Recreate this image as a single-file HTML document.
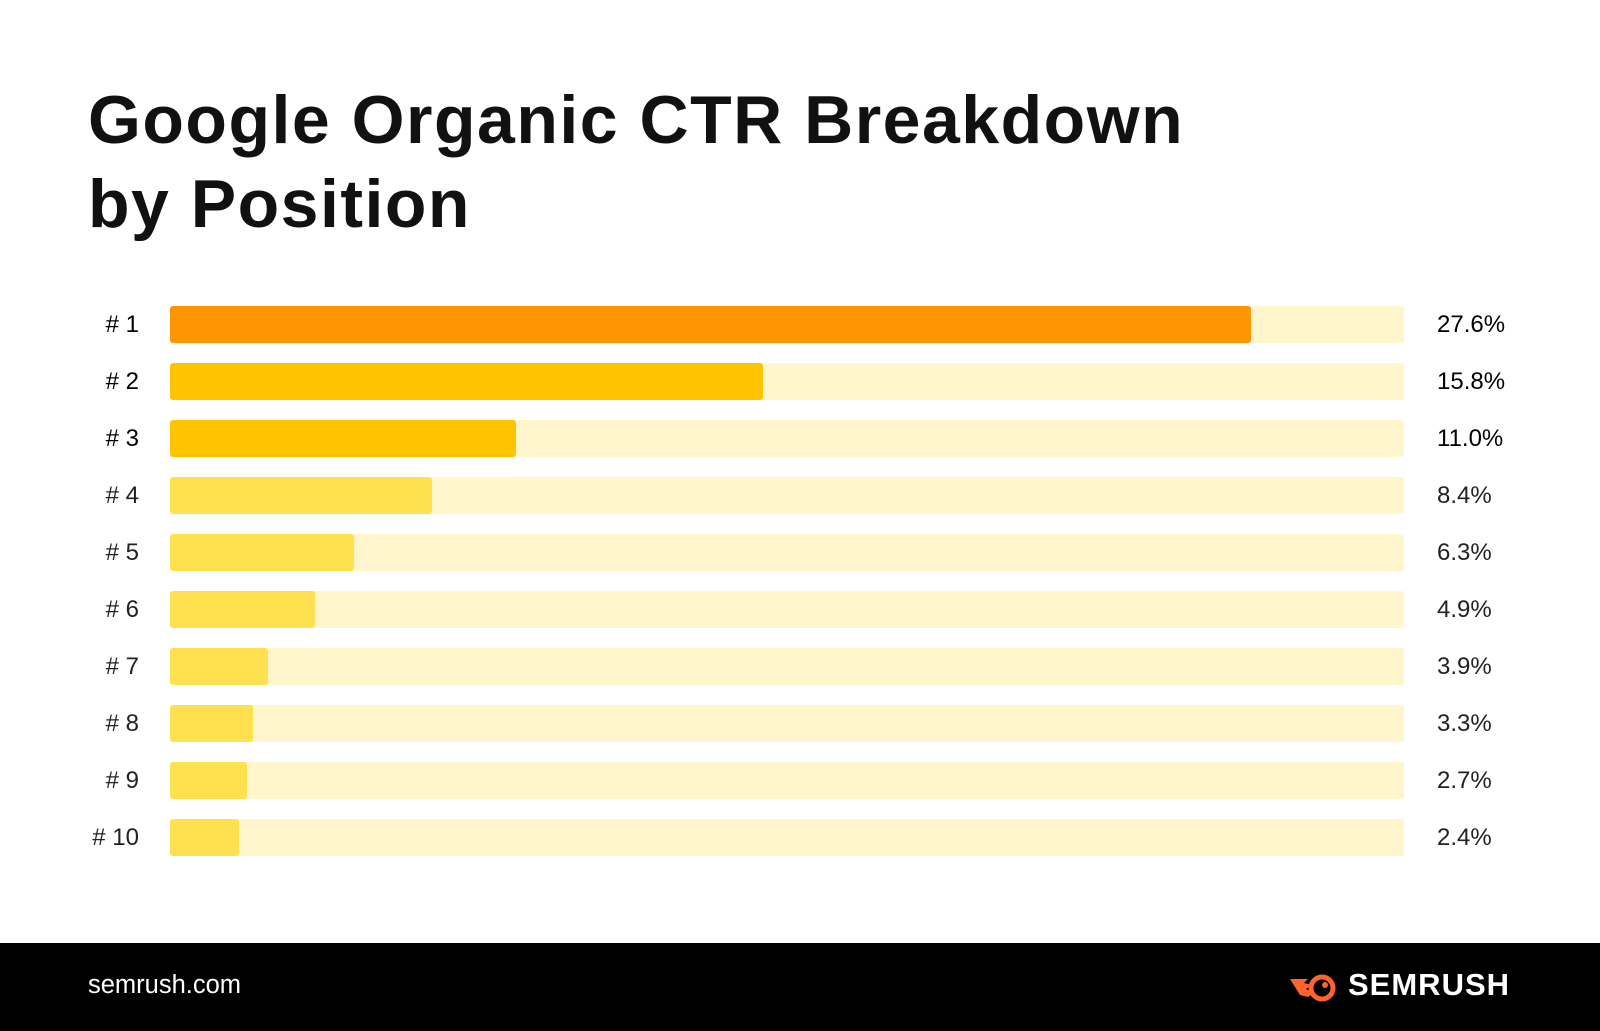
<!DOCTYPE html>
<html><head><style>
body{margin:0;width:1600px;height:1031px;background:#fff;position:relative;overflow:hidden;font-family:"Liberation Sans",sans-serif;color:#111}
.t{position:absolute;left:88px;font-weight:bold;font-size:68px;letter-spacing:1.5px;line-height:84px;top:78px}
.lab{position:absolute;width:139px;left:0;text-align:right;font-size:24px;line-height:37px}
.trk{position:absolute;left:170px;width:1234px;height:37px;background:#FFF5CC;border-radius:3px}
.fill{position:absolute;left:0;top:0;height:37px;border-radius:3px}
.val{position:absolute;left:1437px;font-size:24px;line-height:37px}
.foot{position:absolute;left:0;top:943px;width:1600px;height:88px;background:#000}
</style></head><body>
<div class="t">Google Organic CTR Breakdown<br>by Position</div>
<div id="c"></div>
<div class="foot">
<div style="position:absolute;left:88px;top:28px;color:#fff;font-size:25.5px">semrush.com</div>
<svg style="position:absolute;left:1290px;top:30px" width="50" height="30" viewBox="0 0 50 30"><path d="M0 6 L18 6 L14 10 L22 12 L16 16 L24 20 L18 24 L10 22 Z" fill="#FF642D"/><circle cx="32" cy="15" r="11" fill="none" stroke="#FF642D" stroke-width="5"/><circle cx="35" cy="12" r="3" fill="#FF642D"/></svg>
<div style="position:absolute;left:1348px;top:24px;color:#fff;font-size:31px;font-weight:bold;letter-spacing:1px">SEMRUSH</div>
</div>
<script>
var d=[["# 1",1251,"#FF9502","27.6%",1],["# 2",763,"#FFC400","15.8%",1],["# 3",516,"#FFC400","11.0%",1],["# 4",432,"#FFE14F","8.4%"],["# 5",354,"#FFE14F","6.3%"],["# 6",315,"#FFE14F","4.9%"],["# 7",268,"#FFE14F","3.9%"],["# 8",253,"#FFE14F","3.3%"],["# 9",247,"#FFE14F","2.7%"],["# 10",239,"#FFE14F","2.4%"]];
var h="";d.forEach(function(r,i){var y=306+i*57;var w=r[4]?"font-weight:500;color:#000":"color:#222";
h+='<div class="lab" style="top:'+y+'px;'+w+'">'+r[0]+'</div><div class="trk" style="top:'+y+'px"><div class="fill" style="width:'+(r[1]-170)+'px;background:'+r[2]+'"></div></div><div class="val" style="top:'+y+'px;'+w+'">'+r[3]+'</div>';});
document.getElementById("c").innerHTML=h;
</script>
</body></html>
